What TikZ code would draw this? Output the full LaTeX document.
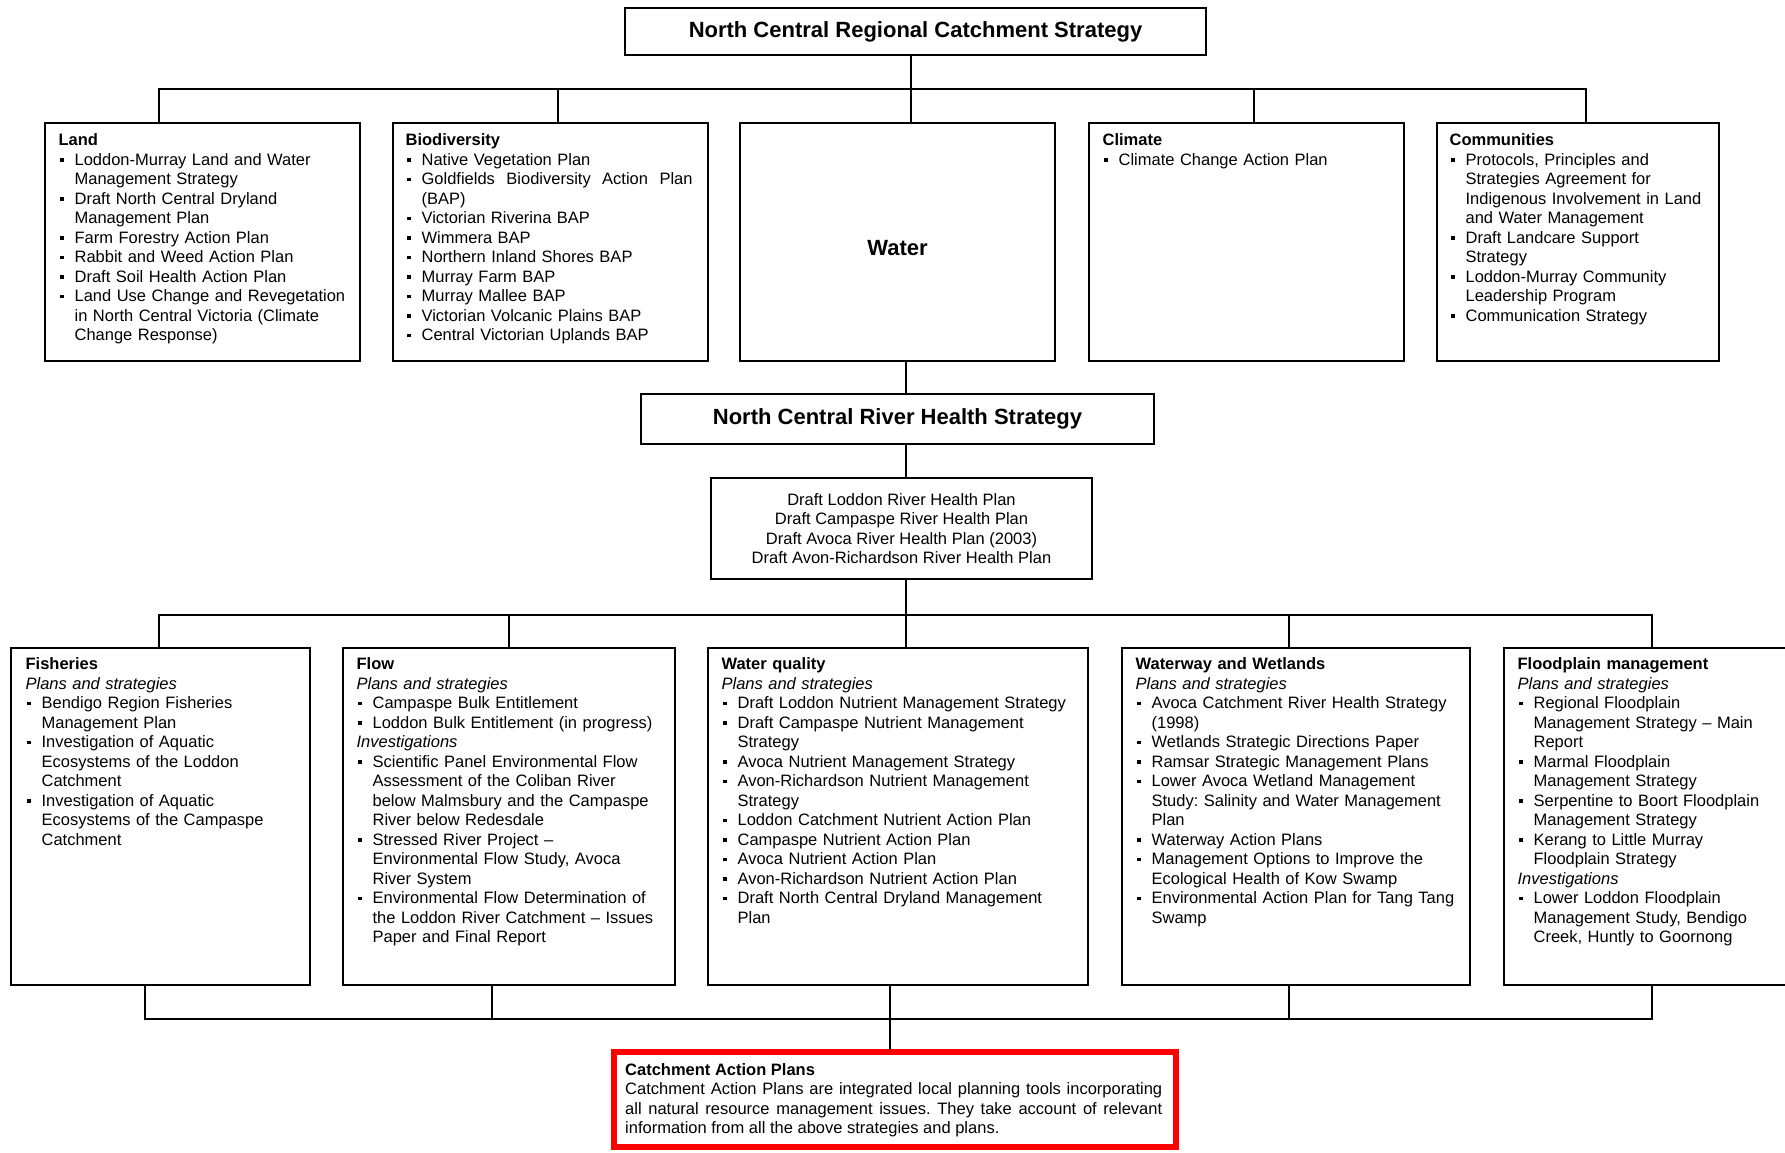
\documentclass[tikz,border=0pt]{standalone}
\usepackage{fontspec}
\setmainfont{Liberation Sans}
\usetikzlibrary{positioning,fit}

\newcommand{\bodyfont}{\fontsize{16.5}{19.5}\selectfont\frenchspacing}
\newcommand{\headfont}{\fontsize{22}{26}\selectfont\bfseries}
\newcommand{\bul}{\raisebox{3.5pt}{\rule{3.5pt}{3.5pt}}}
\newcommand{\itm}[1]{\par\hangindent=16pt\hangafter=1\noindent\makebox[16pt][l]{\hspace{1.5pt}\bul}#1\par}

\begin{document}
\begin{tikzpicture}[x=1pt,y=-1pt,
  panel/.style={draw, line width=1.2pt, inner sep=0pt},
  paneltext/.style={anchor=north west, inner sep=0pt, align=left, font=\bodyfont},
  link/.style={line width=1.2pt, line cap=rect}]
  \useasboundingbox (0,0) rectangle (1785,1152);

  % strategy level
  \node[panel, minimum width=581pt, minimum height=47pt, font=\headfont] (title) at (915.5,31.5) {North Central Regional Catchment Strategy};

  % themes
  \node[panel, fit={(45,123) (360,361)}] (land) {};
  \node[panel, fit={(393,123) (708,361)}] (bio) {};
  \node[panel, fit={(740,123) (1055,361)}] (water) {};
  \node[panel, fit={(1089,123) (1404,361)}] (climate) {};
  \node[panel, fit={(1437,123) (1719,361)}] (comm) {};

  \node[paneltext, text width=300pt] (landtxt) at ([shift={(14,11)}]land.north west) {\textbf{Land}
    \itm{Loddon-Murray Land and Water\newline Management Strategy}
    \itm{Draft North Central Dryland\newline Management Plan}
    \itm{Farm Forestry Action Plan}
    \itm{Rabbit and Weed Action Plan}
    \itm{Draft Soil Health Action Plan}
    \itm{Land Use Change and Revegetation\newline in North Central Victoria (Climate\newline Change Response)}};
  \node[paneltext, text width=287pt] (biotxt) at ([shift={(13,11)}]bio.north west) {\textbf{Biodiversity}
    \itm{Native Vegetation Plan}
    \itm{Goldfields\hfill Biodiversity\hfill Action\hfill Plan\newline (BAP)}
    \itm{Victorian Riverina BAP}
    \itm{Wimmera BAP}
    \itm{Northern Inland Shores BAP}
    \itm{Murray Farm BAP}
    \itm{Murray Mallee BAP}
    \itm{Victorian Volcanic Plains BAP}
    \itm{Central Victorian Uplands BAP}};
  \node[font=\headfont] (watertxt) at ([yshift=-6pt]water.center) {Water};
  \node[paneltext, text width=280pt] (climatetxt) at ([shift={(14,11)}]climate.north west) {\textbf{Climate}
    \itm{Climate Change Action Plan}};
  \node[paneltext, text width=262pt] (commtxt) at ([shift={(13,11)}]comm.north west) {\textbf{Communities}
    \itm{Protocols, Principles and\newline Strategies Agreement for\newline Indigenous Involvement in Land\newline and Water Management}
    \itm{Draft Landcare Support\newline Strategy}
    \itm{Loddon-Murray Community\newline Leadership Program}
    \itm{Communication Strategy}};

  % river health
  \node[panel, minimum width=513pt, minimum height=50pt, font=\headfont] (river) at (897.5,419) {North Central River Health Strategy};
  \node[panel, minimum width=381pt, minimum height=101pt, align=center, font=\bodyfont] (draft) at (901.5,528.5) {Draft Loddon River Health Plan\\Draft Campaspe River Health Plan\\Draft Avoca River Health Plan (2003)\\Draft Avon-Richardson River Health Plan};

  % programs
  \node[panel, fit={(11,648) (310,985)}] (fish) {};
  \node[panel, fit={(343,648) (675,985)}] (flow) {};
  \node[panel, fit={(708,648) (1088,985)}] (wq) {};
  \node[panel, fit={(1122,648) (1470,985)}] (ww) {};
  \node[panel, fit={(1504,648) (1800,985)}] (flood) {};

  \node[paneltext, text width=270pt] (fishtxt) at ([shift={(15,10)}]fish.north west) {\textbf{Fisheries}\par
    \textit{Plans and strategies}
    \itm{Bendigo Region Fisheries\newline Management Plan}
    \itm{Investigation of Aquatic\newline Ecosystems of the Loddon\newline Catchment}
    \itm{Investigation of Aquatic\newline Ecosystems of the Campaspe\newline Catchment}};
  \node[paneltext, text width=305pt] (flowtxt) at ([shift={(14,10)}]flow.north west) {\textbf{Flow}\par
    \textit{Plans and strategies}
    \itm{Campaspe Bulk Entitlement}
    \itm{Loddon Bulk Entitlement (in progress)}
    \textit{Investigations}
    \itm{Scientific Panel Environmental Flow\newline Assessment of the Coliban River\newline below Malmsbury and the Campaspe\newline River below Redesdale}
    \itm{Stressed River Project –\newline Environmental Flow Study, Avoca\newline River System}
    \itm{Environmental Flow Determination of\newline the Loddon River Catchment – Issues\newline Paper and Final Report}};
  \node[paneltext, text width=355pt] (wqtxt) at ([shift={(14,10)}]wq.north west) {\textbf{Water quality}\par
    \textit{Plans and strategies}
    \itm{Draft Loddon Nutrient Management Strategy}
    \itm{Draft Campaspe Nutrient Management\newline Strategy}
    \itm{Avoca Nutrient Management Strategy}
    \itm{Avon-Richardson Nutrient Management\newline Strategy}
    \itm{Loddon Catchment Nutrient Action Plan}
    \itm{Campaspe Nutrient Action Plan}
    \itm{Avoca Nutrient Action Plan}
    \itm{Avon-Richardson Nutrient Action Plan}
    \itm{Draft North Central Dryland Management\newline Plan}};
  \node[paneltext, text width=325pt] (wwtxt) at ([shift={(14,10)}]ww.north west) {\textbf{Waterway and Wetlands}\par
    \textit{Plans and strategies}
    \itm{Avoca Catchment River Health Strategy\newline (1998)}
    \itm{Wetlands Strategic Directions Paper}
    \itm{Ramsar Strategic Management Plans}
    \itm{Lower Avoca Wetland Management\newline Study: Salinity and Water Management\newline Plan}
    \itm{Waterway Action Plans}
    \itm{Management Options to Improve the\newline Ecological Health of Kow Swamp}
    \itm{Environmental Action Plan for Tang Tang\newline Swamp}};
  \node[paneltext, text width=255pt] (floodtxt) at ([shift={(14,10)}]flood.north west) {\textbf{Floodplain management}\par
    \textit{Plans and strategies}
    \itm{Regional Floodplain\newline Management Strategy – Main\newline Report}
    \itm{Marmal Floodplain\newline Management Strategy}
    \itm{Serpentine to Boort Floodplain\newline Management Strategy}
    \itm{Kerang to Little Murray\newline Floodplain Strategy}
    \textit{Investigations}
    \itm{Lower Loddon Floodplain\newline Management Study, Bendigo\newline Creek, Huntly to Goornong}};

  % catchment action plans
  \node[draw=red, line width=6pt, inner sep=0pt, fit={(614,1052) (1176,1147)}] (cap) {};
  \node[paneltext, align=justify, text width=537pt] (captxt) at ([shift={(14,14)}]cap.north west) {\textbf{Catchment Action Plans}\par
    Catchment Action Plans are integrated local planning tools incorporating\linebreak all natural resource management issues. They take account of relevant\linebreak information from all the above strategies and plans.};

  % connectors
  \coordinate (d-land) at (159,89);
  \coordinate (d-bio) at (558,89);
  \coordinate (d-water) at (911,89);
  \coordinate (d-climate) at (1254,89);
  \coordinate (d-comm) at (1586,89);
  \draw[link] (d-water |- title.south) -- (d-water);
  \draw[link] (d-land) -- (d-comm);
  \foreach \n in {land,bio,water,climate,comm}
    \draw[link] (d-\n) -- (d-\n |- \n.north);

  \coordinate (spine) at (906,0);
  \draw[link] (water.south -| spine) -- (river.north -| spine);
  \draw[link] (river.south -| spine) -- (draft.north -| spine);

  \coordinate (u-fish) at (159,615);
  \coordinate (u-flow) at (509,615);
  \coordinate (u-wq) at (906,615);
  \coordinate (u-ww) at (1289,615);
  \coordinate (u-flood) at (1652,615);
  \draw[link] (draft.south -| spine) -- (u-wq);
  \draw[link] (u-fish) -- (u-flood);
  \foreach \n in {fish,flow,wq,ww,flood}
    \draw[link] (u-\n) -- (u-\n |- \n.north);

  \coordinate (l-fish) at (145,1019);
  \coordinate (l-flow) at (492,1019);
  \coordinate (l-wq) at (890,1019);
  \coordinate (l-ww) at (1289,1019);
  \coordinate (l-flood) at (1652,1019);
  \draw[link] (l-fish) -- (l-flood);
  \foreach \n in {fish,flow,wq,ww,flood}
    \draw[link] (l-\n |- \n.south) -- (l-\n);
  \draw[link] (l-wq) -- (l-wq |- cap.north);
\end{tikzpicture}
\end{document}
